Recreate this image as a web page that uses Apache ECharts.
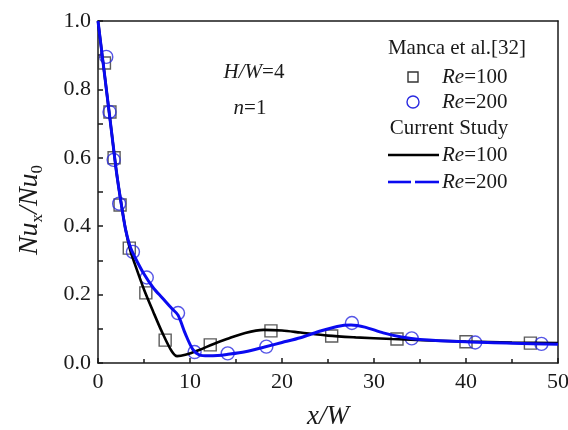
<!DOCTYPE html>
<html>
<head>
<meta charset="utf-8">
<script src="https://cdn.jsdelivr.net/npm/echarts@6/dist/echarts.min.js"></script>
<style>
html,body{margin:0;padding:0;background:#fff;}
#chart{width:568px;height:430px;}
</style>
</head>
<body>
<div id="chart"></div>
<script>
// Manca et al. [32] experimental points
var mancaRe100X = [0.7, 1.3, 1.75, 2.4, 3.4, 5.2, 7.3, 12.2, 18.8, 25.4, 32.5, 40.0, 47.0];
var mancaRe100Y = [0.877, 0.734, 0.60, 0.462, 0.336, 0.205, 0.067, 0.053, 0.094, 0.079, 0.070, 0.062, 0.058];
var mancaRe200X = [0.9, 1.25, 1.7, 2.3, 3.8, 5.3, 8.7, 10.5, 14.1, 18.3, 27.6, 34.1, 41.0, 48.2];
var mancaRe200Y = [0.895, 0.734, 0.594, 0.466, 0.325, 0.25, 0.146, 0.032, 0.028, 0.048, 0.117, 0.072, 0.06, 0.056];

// Current study curves
var currentRe100X = [0, 0.5, 1, 1.5, 2, 2.5, 3, 3.5, 4, 5, 6, 7, 8, 8.6, 9.5, 11, 12.5, 14, 16, 18, 20, 22, 25, 28, 32, 36, 40, 45, 50];
var currentRe100Y = [1.0, 0.89, 0.78, 0.67, 0.56, 0.47, 0.39, 0.33, 0.29, 0.215, 0.15, 0.088, 0.035, 0.02, 0.024, 0.038, 0.055, 0.07, 0.088, 0.097, 0.095, 0.089, 0.08, 0.075, 0.07, 0.066, 0.063, 0.06, 0.058];
var currentRe200X = [0, 0.5, 1, 1.5, 2, 2.5, 3, 3.5, 4, 5, 6, 7, 8, 8.7, 9.5, 10.3, 11, 12, 13, 14, 16, 18, 20, 22, 24, 26, 27.5, 29, 31, 33, 35, 40, 45, 50];
var currentRe200Y = [1.0, 0.89, 0.78, 0.67, 0.56, 0.47, 0.39, 0.34, 0.31, 0.26, 0.22, 0.19, 0.16, 0.14, 0.085, 0.04, 0.024, 0.021, 0.022, 0.025, 0.033, 0.046, 0.06, 0.074, 0.092, 0.107, 0.111, 0.105, 0.088, 0.076, 0.069, 0.062, 0.058, 0.055];

// Axis ticks
var xTicks = [0, 10, 20, 30, 40, 50];
var yTicks = [0.0, 0.2, 0.4, 0.6, 0.8, 1.0];

function zip(xs, ys) { return xs.map(function (x, i) { return [x, ys[i]]; }); }

var FONT = 'Liberation Serif';
var TXT = '#1a1a1a';
var chart = echarts.init(document.getElementById('chart'));

var axisLineStyle = { color: '#1a1a1a', width: 1.5 };
var richRe = {
  i: { fontFamily: FONT, fontSize: 21, fontStyle: 'italic', fill: TXT },
  n: { fontFamily: FONT, fontSize: 21, fill: TXT }
};

var option = {
  backgroundColor: '#fff',
  animation: false,
  grid: { left: 98, right: 10, top: 21, bottom: 67, outerBoundsMode: 'none', containLabel: false },
  xAxis: [{
    type: 'value', min: xTicks[0], max: xTicks[xTicks.length - 1], interval: 10,
    position: 'bottom',
    axisLine: { show: true, lineStyle: axisLineStyle },
    axisTick: { show: true, inside: true, length: 5, lineStyle: { color: '#1a1a1a', width: 1.5 } },
    minorTick: { show: true, splitNumber: 2, length: 4, lineStyle: { color: '#1a1a1a', width: 1.5 } },
    axisLabel: { fontFamily: FONT, fontSize: 22, color: TXT, margin: 8 },
    splitLine: { show: false },
    name: 'x/W', nameLocation: 'middle', nameGap: 40,
    nameTextStyle: { fontFamily: FONT, fontSize: 27, fontStyle: 'italic', color: TXT }
  }, {
    type: 'value', min: 0, max: 50, position: 'top',
    axisLine: { show: true, onZero: false, lineStyle: axisLineStyle },
    axisTick: { show: false }, axisLabel: { show: false }, splitLine: { show: false }
  }],
  yAxis: [{
    type: 'value', min: yTicks[0], max: yTicks[yTicks.length - 1], interval: 0.2,
    axisLine: { show: true, lineStyle: axisLineStyle },
    axisTick: { show: true, inside: true, length: 5, lineStyle: { color: '#1a1a1a', width: 1.5 } },
    minorTick: { show: true, splitNumber: 2, length: 5, lineStyle: { color: '#1a1a1a', width: 1.5 } },
    axisLabel: { fontFamily: FONT, fontSize: 22, color: TXT, margin: 7,
      formatter: function (v) { return v.toFixed(1); } },
    splitLine: { show: false },
    name: '{i|Nu}{s|x}{i|/Nu}{s|0}', nameLocation: 'middle', nameGap: 52,
    nameTextStyle: {
      padding: [0, 36, 0, 0],
      rich: {
        i: { fontFamily: FONT, fontSize: 28, fontStyle: 'italic', color: TXT, lineHeight: 32 },
        s: { fontFamily: FONT, fontSize: 17, color: TXT, lineHeight: 17, verticalAlign: 'bottom' }
      }
    }
  }, {
    type: 'value', min: 0, max: 1, position: 'right',
    axisLine: { show: true, onZero: false, lineStyle: axisLineStyle },
    axisTick: { show: false }, axisLabel: { show: false }, splitLine: { show: false }
  }],
  series: [{
    name: 'Manca Re=100', type: 'scatter', symbol: 'rect', symbolSize: 12,
    data: zip(mancaRe100X, mancaRe100Y),
    itemStyle: { color: 'transparent', borderColor: '#333', borderWidth: 1.4 }, z: 2
  }, {
    name: 'Manca Re=200', type: 'scatter', symbol: 'circle', symbolSize: 13,
    data: zip(mancaRe200X, mancaRe200Y),
    itemStyle: { color: 'transparent', borderColor: '#2a2ae0', borderWidth: 1.4 }, z: 3
  }, {
    name: 'Current Re=100', type: 'line', smooth: 0.3, showSymbol: false,
    data: zip(currentRe100X, currentRe100Y),
    lineStyle: { color: '#000', width: 2.6 }, z: 4
  }, {
    name: 'Current Re=200', type: 'line', smooth: 0.3, showSymbol: false,
    data: zip(currentRe200X, currentRe200Y),
    lineStyle: { color: '#0a0af0', width: 3 }, z: 5
  }],
  graphic: [
    { type: 'text', x: 254, y: 72, style: { rich: richRe, text: '{i|H/W}{n|=4}', align: 'center', verticalAlign: 'middle' } },
    { type: 'text', x: 250, y: 108, style: { rich: richRe, text: '{i|n}{n|=1}', align: 'center', verticalAlign: 'middle' } },
    { type: 'text', x: 457, y: 48, style: { text: 'Manca et al.[32]', fontFamily: FONT, fontSize: 21, fill: TXT, align: 'center', verticalAlign: 'middle' } },
    { type: 'rect', shape: { x: 408, y: 72, width: 10, height: 10 }, style: { fill: 'none', stroke: '#333', lineWidth: 1.4 } },
    { type: 'text', x: 442, y: 77, style: { rich: richRe, text: '{i|Re}{n|=100}', verticalAlign: 'middle' } },
    { type: 'circle', shape: { cx: 413, cy: 102, r: 6 }, style: { fill: 'none', stroke: '#2a2ae0', lineWidth: 1.4 } },
    { type: 'text', x: 442, y: 102, style: { rich: richRe, text: '{i|Re}{n|=200}', verticalAlign: 'middle' } },
    { type: 'text', x: 449, y: 128, style: { text: 'Current Study', fontFamily: FONT, fontSize: 21, fill: TXT, align: 'center', verticalAlign: 'middle' } },
    { type: 'line', shape: { x1: 388, y1: 155, x2: 439, y2: 155 }, style: { stroke: '#000', lineWidth: 2.6 } },
    { type: 'text', x: 442, y: 155, style: { rich: richRe, text: '{i|Re}{n|=100}', verticalAlign: 'middle' } },
    { type: 'line', shape: { x1: 388, y1: 182, x2: 411, y2: 182 }, style: { stroke: '#0a0af0', lineWidth: 2.6 } },
    { type: 'line', shape: { x1: 415, y1: 182, x2: 439, y2: 182 }, style: { stroke: '#0a0af0', lineWidth: 2.6 } },
    { type: 'text', x: 442, y: 182, style: { rich: richRe, text: '{i|Re}{n|=200}', verticalAlign: 'middle' } }
  ]
};
chart.setOption(option);
</script>
</body>
</html>
